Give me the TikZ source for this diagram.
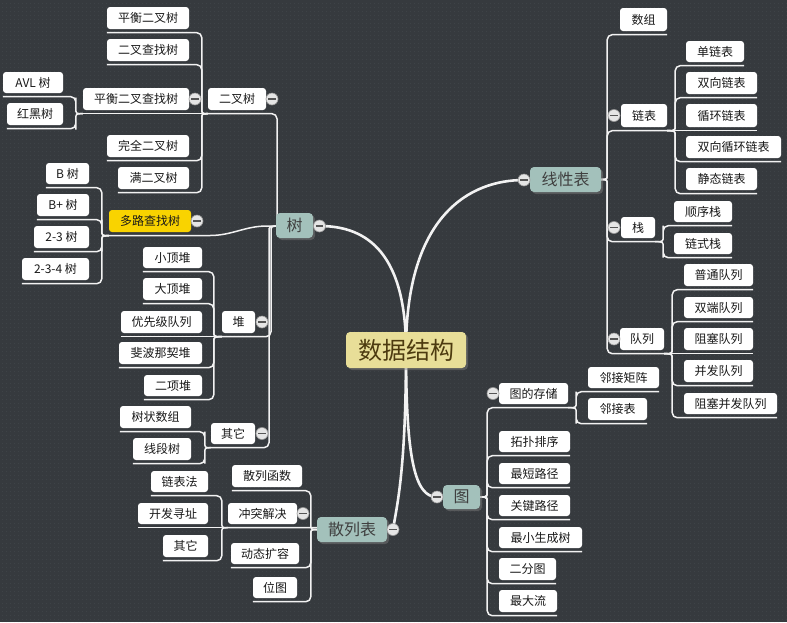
\documentclass[tikz,border=0pt]{standalone}
\usepackage{fontspec}
\setmainfont{Noto Sans CJK SC}
\usetikzlibrary{shadows,patterns.meta,calc}
\definecolor{bgc}{HTML}{363A3E}
\definecolor{dotc}{HTML}{454A4E}
\definecolor{linkc}{HTML}{F2F2F2}
\definecolor{mainc}{HTML}{A3C1BB}
\definecolor{rootc}{HTML}{E8DE98}
\definecolor{roott}{HTML}{4D3B10}
\definecolor{yelc}{HTML}{F9D300}
\definecolor{minusc}{HTML}{555555}
\pgfdeclarelayer{back}
\pgfdeclarelayer{links}
\pgfsetlayers{back,links,main}
\tikzset{
  leaf/.style={rectangle, rounded corners=3pt, fill=white, inner sep=0pt,
    text=black!90, font=\fontsize{12}{14}\selectfont},
  yel/.style={leaf, fill=yelc},
  mainn/.style={rectangle, rounded corners=4pt, fill=mainc, inner sep=0pt,
    text=black!75, font=\fontsize{16}{18}\selectfont,
    drop shadow={shadow xshift=2pt, shadow yshift=-2pt, opacity=0.45}},
  rootn/.style={mainn, fill=rootc, text=roott, font=\fontsize{24}{28}\selectfont},
  link/.style={draw=linkc, line width=1.5pt, rounded corners=5pt},
  mlink/.style={draw=linkc, line width=2.6pt},
  collapse/.style={circle, minimum size=12pt, inner sep=0pt, fill=black!10,
    draw=black!40, line width=0.6pt,
    path picture={\draw[minusc, line width=1.2pt]
      ([xshift=-3.6pt]path picture bounding box.center) --
      ([xshift=3.6pt]path picture bounding box.center);}}
}
\newcommand\lf[7][leaf]{\node[#1, minimum width={(#5-#3)*1pt},
  minimum height={(#6-#4)*1pt}] (#2) at ({(#3+#5)/2},{(#4+#6)/2}) {#7};}
\newcommand\cl[3]{\node[collapse] (#1) at (#2,#3) {};}
% fan connector: junction, horizontal offset, child node, anchor
\newcommand\fan[4]{\draw[link] let \p1=(#1), \p2=([yshift=-3.5pt]#3.#4),
  \n1={sign(\y2-\y1)} in (\p1) .. controls (\x1+#2pt,\y1) .. (\x1+#2pt,\y1+\n1*11pt) |- (\p2);}
\newcommand\rconn[3]{\fan{#1}{#2}{#3}{south east}}
\newcommand\lconn[3]{\fan{#1}{#2}{#3}{south west}}
\newcommand\rstr[2]{\draw[link] (#1) -- ([yshift=-3.5pt]#2.south east);}
\newcommand\lstr[2]{\draw[link] (#1) -- ([yshift=-3.5pt]#2.south west);}
\begin{document}
\begin{tikzpicture}[x=1pt,y=-1pt]
\begin{pgfonlayer}{back}
\fill[bgc] (0,0) rectangle (787,622);
\fill[pattern={Dots[distance=4pt,radius=0.55pt]}, pattern color=dotc] (0,0) rectangle (787,622);
\end{pgfonlayer}
\useasboundingbox (0,0) rectangle (787,622);

% root and main nodes
\lf[rootn]{root}{346}{332}{466}{368}{数据结构}
\lf[mainn]{tree}{276}{213}{313}{238}{树}
\lf[mainn]{ln}{530}{167}{601}{192}{线性表}
\lf[mainn]{gr}{443}{485}{480}{509}{图}
\lf[mainn]{hs}{317}{517}{387}{542}{散列表}
\cl{ctree}{319.5}{226}
\cl{cln}{524}{180}
\cl{cgr}{437}{497}
\cl{chs}{393}{529.5}

% tree branch
\lf{bt}{208}{88}{266}{110}{二叉树}
\cl{cbt}{272}{99}
\lf{b1}{107}{7}{189}{29}{平衡二叉树}
\lf{b2}{107}{39}{189}{61}{二叉查找树}
\lf{b3}{83}{88}{189}{110}{平衡二叉查找树}
\cl{cb3}{195}{99}
\lf{avl}{3}{72}{63}{93}{AVL 树}
\lf{rb}{7}{103}{63}{125}{红黑树}
\lf{b4}{107}{135}{189}{157}{完全二叉树}
\lf{b5}{118}{167}{189}{189}{满二叉树}
\lf[yel]{mw}{109}{210}{191}{232}{多路查找树}
\cl{cmw}{197}{221}
\lf{m1}{46}{163}{89}{184}{B 树}
\lf{m2}{37}{194}{89}{216}{B+ 树}
\lf{m3}{34}{226}{89}{248}{2-3 树}
\lf{m4}{22}{258}{89}{280}{2-3-4 树}
\lf{hp}{222}{311}{255}{333}{堆}
\cl{chp}{262}{322}
\lf{h1}{143}{247}{202}{268}{小顶堆}
\lf{h2}{143}{278}{202}{300}{大顶堆}
\lf{h3}{121}{311}{202}{333}{优先级队列}
\lf{h4}{119}{342}{202}{364}{斐波那契堆}
\lf{h5}{144}{375}{202}{396}{二项堆}
\lf{ot}{211}{423}{255}{444}{其它}
\cl{cot}{262}{433.5}
\lf{o1}{120}{406}{191}{428}{树状数组}
\lf{o2}{133}{438}{191}{460}{线段树}

% hash branch
\lf{s1}{232}{465}{302}{487}{散列函数}
\lf{s2}{228}{503}{297}{524}{冲突解决}
\cl{cs2}{303}{513.5}
\lf{k1}{151}{471}{208}{492}{链表法}
\lf{k2}{138}{503}{208}{524}{开发寻址}
\lf{k3}{163}{535}{208}{557}{其它}
\lf{s3}{231}{543}{299}{564}{动态扩容}
\lf{s4}{253}{577}{297}{598}{位图}

% linear branch
\lf{l1}{620}{8}{667}{31}{数组}
\lf{l2}{621}{104}{667}{127}{链表}
\cl{cl2}{614}{115.5}
\lf{a1}{686}{41}{744}{62}{单链表}
\lf{a2}{686}{72}{757}{94}{双向链表}
\lf{a3}{686}{104}{757}{127}{循环链表}
\lf{a4}{686}{136}{781}{158}{双向循环链表}
\lf{a5}{686}{168}{757}{190}{静态链表}
\lf{l3}{621}{217}{655}{238}{栈}
\cl{cl3}{614}{227.5}
\lf{t1}{674}{201}{732}{222}{顺序栈}
\lf{t2}{674}{233}{732}{254}{链式栈}
\lf{l4}{620}{328}{664}{350}{队列}
\cl{cl4}{614}{339}
\lf{q1}{684}{264}{753}{286}{普通队列}
\lf{q2}{684}{297}{753}{318}{双端队列}
\lf{q3}{684}{328}{753}{350}{阻塞队列}
\lf{q4}{684}{360}{753}{382}{并发队列}
\lf{q5}{684}{393}{777}{414}{阻塞并发队列}

% graph branch
\lf{g1}{499}{383}{568}{404}{图的存储}
\cl{cg1}{493}{393.5}
\lf{j1}{588}{367}{659}{388}{邻接矩阵}
\lf{j2}{588}{398}{647}{420}{邻接表}
\lf{g2}{499}{431}{570}{452}{拓扑排序}
\lf{g3}{499}{463}{570}{484}{最短路径}
\lf{g4}{499}{495}{570}{516}{关键路径}
\lf{g5}{499}{527}{582}{548}{最小生成树}
\lf{g6}{499}{558}{556}{580}{二分图}
\lf{g7}{499}{590}{557}{612}{最大流}

\begin{pgfonlayer}{links}
% main curves
\draw[mlink] (root.center) .. controls (406,245) and (360,226) .. (ctree.center);
\draw[mlink] (root.center) .. controls (406,215) and (470,180) .. (cln.center);
\draw[mlink] (root.center) .. controls (406,460) and (415,497) .. (cgr.center);
\draw[mlink] (root.center) .. controls (406,470) and (397,505) .. (chs.center);

% tree
\coordinate (Jt) at (284,226);
\coordinate (Jt2) at (280,226);
\lconn{Jt2}{-3}{bt}
\draw[link] (Jt) -- (272,226) .. controls (245,226) and (232,235.5) .. (205,235.5) -- ([yshift=-3.5pt]mw.south west);
\lconn{Jt2}{-9}{hp}
\lconn{Jt2}{-11}{ot}
\coordinate (Jbt) at ([yshift=-3.5pt]bt.south west);
\lconn{Jbt}{-6}{b1}
\lconn{Jbt}{-6}{b2}
\lstr{Jbt}{b3}
\lconn{Jbt}{-6}{b4}
\lconn{Jbt}{-6}{b5}
\coordinate (Jb3) at ([yshift=-3.5pt]b3.south west);
\lconn{Jb3}{-7}{avl}
\lconn{Jb3}{-7}{rb}
\coordinate (Jmw) at ([yshift=-3.5pt]mw.south west);
\lconn{Jmw}{-7}{m1}
\lconn{Jmw}{-7}{m2}
\lconn{Jmw}{-7}{m3}
\lconn{Jmw}{-7}{m4}
\coordinate (Jhp) at ([yshift=-3.5pt]hp.south west);
\lconn{Jhp}{-8}{h1}
\lconn{Jhp}{-8}{h2}
\lstr{Jhp}{h3}
\lconn{Jhp}{-8}{h4}
\lconn{Jhp}{-8}{h5}
\coordinate (Jot) at ([yshift=-3.5pt]ot.south west);
\lconn{Jot}{-6}{o1}
\lconn{Jot}{-6}{o2}

% hash
\coordinate (Jhs) at (hs.west);
\lconn{Jhs}{-6}{s1}
\draw[link] ([yshift=2pt]hs.west) -- ([yshift=-3.5pt]s2.south west);
\lconn{Jhs}{-6}{s3}
\lconn{Jhs}{-6}{s4}
\coordinate (Js2) at ([yshift=-3.5pt]s2.south west);
\lconn{Js2}{-6}{k1}
\lstr{Js2}{k2}
\lconn{Js2}{-6}{k3}

% linear
\coordinate (Jln) at (ln.east);
\rconn{Jln}{6}{l1}
\rconn{Jln}{6}{l2}
\rconn{Jln}{6}{l3}
\rconn{Jln}{6}{l4}
\coordinate (Jl2) at ([yshift=-3.5pt]l2.south east);
\rconn{Jl2}{8}{a1}
\rconn{Jl2}{8}{a2}
\rstr{Jl2}{a3}
\rconn{Jl2}{8}{a4}
\rconn{Jl2}{8}{a5}
\coordinate (Jl3) at ([yshift=-3.5pt]l3.south east);
\rconn{Jl3}{8}{t1}
\rconn{Jl3}{8}{t2}
\coordinate (Jl4) at ([yshift=-3.5pt]l4.south east);
\rconn{Jl4}{8}{q1}
\rconn{Jl4}{8}{q2}
\rstr{Jl4}{q3}
\rconn{Jl4}{8}{q4}
\rconn{Jl4}{8}{q5}

% graph
\coordinate (Jgr) at (gr.east);
\rconn{Jgr}{7}{g1}
\rconn{Jgr}{7}{g2}
\rconn{Jgr}{7}{g3}
\rconn{Jgr}{7}{g4}
\rconn{Jgr}{7}{g5}
\rconn{Jgr}{7}{g6}
\rconn{Jgr}{7}{g7}
\coordinate (Jg1) at ([yshift=-3.5pt]g1.south east);
\rconn{Jg1}{8}{j1}
\rconn{Jg1}{8}{j2}
\end{pgfonlayer}
\end{tikzpicture}
\end{document}
